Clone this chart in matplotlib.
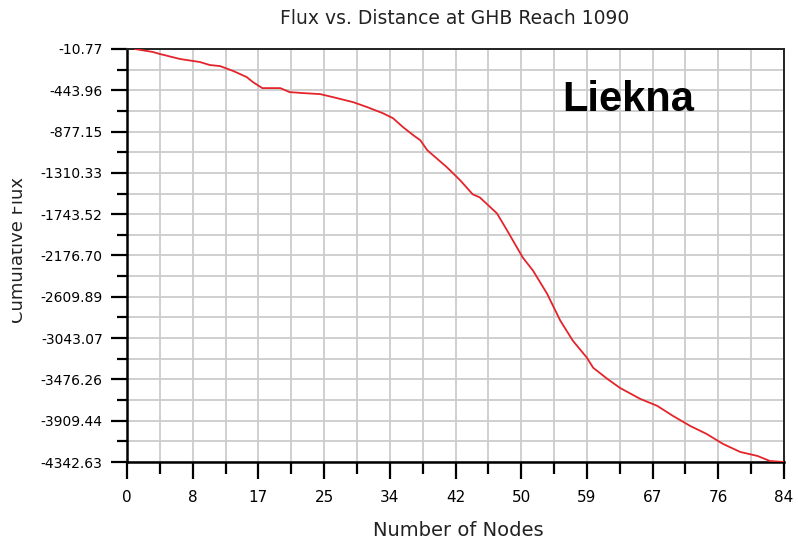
import numpy as np
import matplotlib
matplotlib.use("Agg")
import matplotlib.pyplot as plt
from matplotlib.ticker import FixedLocator
from matplotlib.transforms import Bbox

# node positions and cumulative flux
nodes = [1, 3.3, 4.2, 6.8, 9.3, 10.6, 11.9, 13.6, 15.3, 16.1, 17.3, 19.6, 20.8,
         22.5, 24.7, 26.3, 28.9, 30.7, 32.7, 34.0, 35.3, 36.6, 37.5, 38.4, 40.9,
         42.6, 44.2, 45.1, 47.3, 48.6, 50.6, 51.9, 53.7, 55.4, 57.0, 58.8, 59.6,
         61.4, 63.0, 65.6, 67.8, 69.8, 72.0, 74.1, 76.2, 78.4, 80.6, 82.2, 84]
flux = [-11, -42, -63, -116, -147, -179, -190, -242, -305, -358, -421, -421, -463,
        -473, -484, -515, -568, -620, -684, -736, -831, -915, -968, -1073, -1251,
        -1388, -1535, -1567, -1735, -1914, -2198, -2334, -2576, -2860, -3070, -3249, -3354,
        -3470, -3564, -3680, -3754, -3859, -3964, -4048, -4153, -4237, -4279, -4332, -4343]

y_labels = ["-10.77", "-443.96", "-877.15", "-1310.33", "-1743.52", "-2176.70",
            "-2609.89", "-3043.07", "-3476.26", "-3909.44", "-4342.63"]
x_labels = ["0", "8", "17", "25", "34", "42", "50", "59", "67", "76", "84"]

y_top, y_bot = -10.77, -4342.63
x_max = 84

fig = plt.figure(figsize=(7.98, 5.43), dpi=100)
ax = fig.add_axes([127/798, 1-462/543, (784-127)/798, (462-49)/543])

ax.plot(nodes, flux, color="#e3242b", lw=1.3, zorder=3)

ax.set_xlim(0, x_max)
ax.set_ylim(y_bot, y_top)

ymaj = np.linspace(y_top, y_bot, 11)
ymin = (ymaj[:-1] + ymaj[1:]) / 2
xmaj = np.linspace(0, x_max, 11)
xmin = (xmaj[:-1] + xmaj[1:]) / 2

ax.yaxis.set_major_locator(FixedLocator(ymaj))
ax.yaxis.set_minor_locator(FixedLocator(ymin))
ax.set_yticklabels(y_labels)
ax.xaxis.set_major_locator(FixedLocator(xmaj))
ax.xaxis.set_minor_locator(FixedLocator(xmin))
ax.set_xticklabels(x_labels)

ax.grid(True, which="both", color="#cccccc", lw=1.3, zorder=0)
ax.set_axisbelow(True)

ax.tick_params(axis="y", which="major", length=11.5, width=1.6, pad=6, labelsize=10)
ax.tick_params(axis="y", which="minor", length=7, width=1.6)
ax.tick_params(axis="x", which="major", length=12, width=1.6, pad=8, labelsize=11)
ax.tick_params(axis="x", which="minor", length=8.5, width=1.6)

for side in ["left", "bottom"]:
    ax.spines[side].set_linewidth(1.8)
for side in ["top", "right"]:
    ax.spines[side].set_linewidth(1.4)
    ax.spines[side].set_color("#222222")

fig.text(455/798, 1-18/543, "Flux vs. Distance at GHB Reach 1090",
         ha="center", va="center", fontsize=13.5, color="#222222")
fig.text(458/798, 1-531/543, "Number of Nodes",
         ha="center", va="center", fontsize=14, color="#222222")

ylab = fig.text(18/798, 1-250/543, "Cumulative Flux", rotation=90,
                ha="center", va="center", fontsize=13, color="#222222")
ylab.set_clip_on(True)
ylab.set_clip_box(Bbox.from_extents(12, 0, 798, 543))

fig.text(562/798, 1-111/543, "Liekna", fontsize=30, fontweight="bold",
         family="Liberation Sans", ha="left", va="baseline", color="black")

fig.savefig("out.png", dpi=100)
